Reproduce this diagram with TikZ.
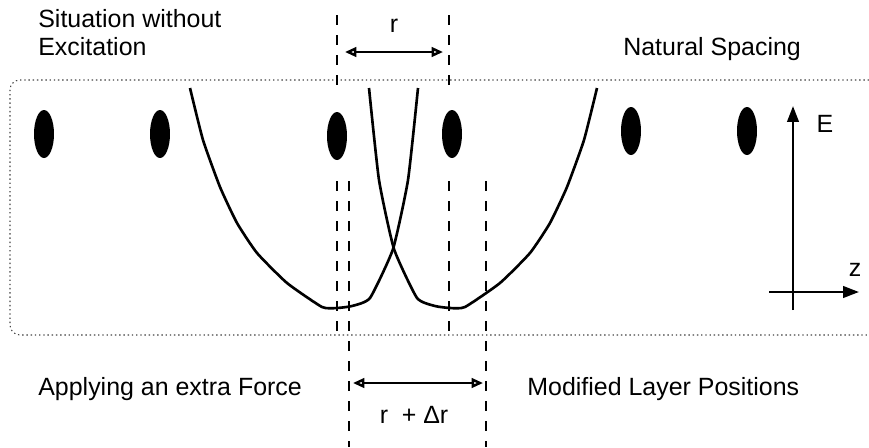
\documentclass[tikz,border=0pt]{standalone}
\usepackage{fontspec}
\setmainfont{Liberation Sans}
\usetikzlibrary{arrows.meta}

\tikzset{
    label/.style={inner sep=0pt, font=\fontsize{14.2}{15.4}\selectfont},
    guide/.style={line width=0.6pt, dash pattern=on 5.7pt off 5.7pt},
    potential/.style={line width=1.5pt, smooth, tension=0.3},
    spacing/.style={line width=1.4pt, {Triangle[open,length=6.5pt,width=5.5pt]}-{Triangle[open,length=6.5pt,width=5.5pt]}},
    axis/.style={line width=1.4pt, -{Triangle[length=9pt,width=6.5pt]}}
}

\begin{document}
\begin{tikzpicture}[x=0.02cm, y=-0.02cm]
    \def\boxTop{80}
    \def\boxBottom{335}

    \definecolor{boxColour}{HTML}{444444}

    \useasboundingbox (0,0) rectangle (869,447);

    % Draw box round the layers (open to the right)
    \draw[boxColour, line width=0.6pt, dash pattern=on 0.8pt off 1.6pt, rounded corners=0.2cm]
        (869,\boxTop) -- (10,\boxTop) -- (10,\boxBottom) -- (869,\boxBottom);

    % Draw layers
    \foreach \x/\y in {44/134, 160/134, 337/136, 452/134, 631/131, 747/131}
        \fill (\x,\y) ellipse [x radius=0.2cm, y radius=0.48cm];

    % Potential wells
    \draw[potential] plot coordinates {(190,88) (203,140) (220,187) (237,223) (257,253)
        (287,283) (322,307) (337,308) (352,306) (370,298) (393,249) (408,180) (418,88)};
    \draw[potential] plot coordinates {(369,88) (379,180) (394,249) (417,298) (435,306)
        (450,308) (465,307) (500,283) (530,253) (550,223) (567,187) (584,140) (597,88)};

    % Guide lines
    \draw[guide] (337,15) -- (337,90);
    \draw[guide] (449,15) -- (449,90);
    \draw[guide] (337,181) -- (337,\boxBottom);
    \draw[guide] (449,181) -- (449,\boxBottom);
    \draw[guide] (349,181) -- (349,447);
    \draw[guide] (486,181) -- (486,447);

    % Spacing r
    \coordinate (rLeft) at (345,52);
    \coordinate (rRight) at (443,52);
    \draw[spacing] (rLeft) -- (rRight);
    \node[label, anchor=base] (rLabel) at (394,32) {r};

    % Spacing r + dr
    \coordinate (drLeft) at (353,383);
    \coordinate (drRight) at (483,383);
    \draw[spacing] (drLeft) -- (drRight);
    \node[label, anchor=base] (drLabel) at (414,423) {r\hspace{0.55em}+ Δr};

    % Texts
    \node[label, anchor=base west, align=left] (situation) at (38,55) {Situation without\\Excitation};
    \node[label, anchor=base west] (natural) at (623,55) {Natural Spacing};
    \node[label, anchor=base west] (force) at (38,395) {Applying an extra Force};
    \node[label, anchor=base west] (modified) at (527,395) {Modified Layer Positions};

    % Draw axes
    \coordinate (eBottom) at (793,310);
    \coordinate (eTop) at (793,106);
    \coordinate (zLeft) at (769,292);
    \coordinate (zRight) at (859,292);
    \draw[axis] (eBottom) -- (eTop);
    \draw[axis] (zLeft) -- (zRight);
    \node[label] (eLabel) at (825,124) {E};
    \node[label] (zLabel) at (855,270) {z};

\end{tikzpicture}
\end{document}
